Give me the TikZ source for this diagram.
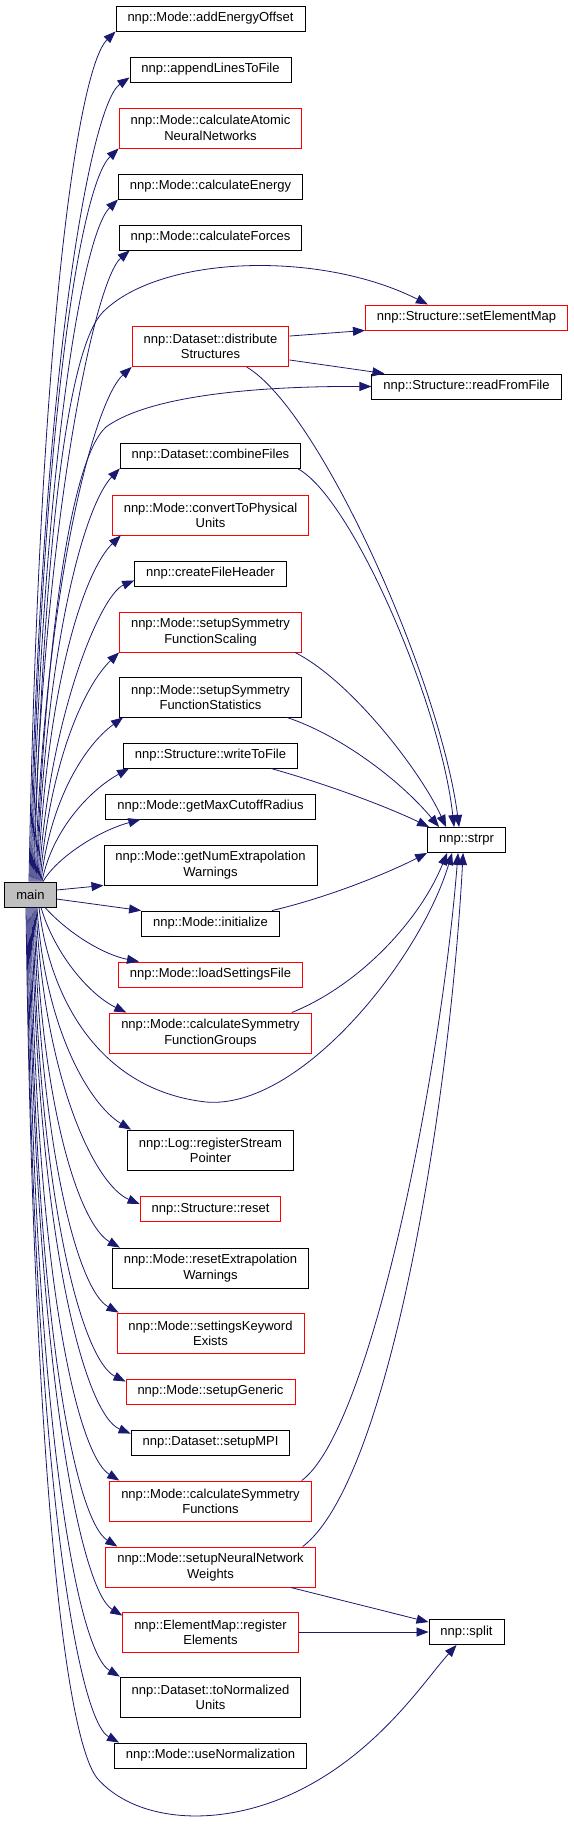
\documentclass[tikz,border=0pt]{standalone}
\usepackage{fontspec}
\setmainfont{Liberation Sans}
\usetikzlibrary{arrows.meta}
\definecolor{callblue}{HTML}{191970}
\definecolor{truncred}{HTML}{FF0000}

\begin{document}
\begin{tikzpicture}[x=1pt, y=-1pt,
    fn/.style={draw=black, line width=0.9pt, fill=white, align=center,
      inner xsep=11.5pt, inner ysep=0pt, minimum height=25pt,
      font=\fontsize{13}{15.3}\selectfont},
    two/.style={minimum height=40pt},
    trunc/.style={draw=truncred},
    call/.style={draw=callblue, line width=0.8pt,
      -{Triangle[length=12pt,width=9pt]}}]
  \useasboundingbox (0,0) rectangle (573,1825);
  % caller
  \node[fn, fill=black!25] (main) at (30.5,894.5) {main};
  % callees, middle column
  \node[fn] (addE) at (210.5,18.5) {nnp::Mode::addEnergyOffset};
  \node[fn] (append) at (210.5,69.5) {nnp::appendLinesToFile};
  \node[fn, trunc, two] (atomic) at (210.5,128) {nnp::Mode::calculateAtomic\\NeuralNetworks};
  \node[fn] (energy) at (210.5,186.5) {nnp::Mode::calculateEnergy};
  \node[fn] (forces) at (210.5,237.5) {nnp::Mode::calculateForces};
  \node[fn, trunc, two] (distrib) at (210.5,346.5) {nnp::Dataset::distribute\\Structures};
  \node[fn] (combine) at (210.5,455.5) {nnp::Dataset::combineFiles};
  \node[fn, trunc, two] (tophys) at (210.5,515) {nnp::Mode::convertToPhysical\\Units};
  \node[fn] (header) at (210.5,573.5) {nnp::createFileHeader};
  \node[fn, trunc, two] (sfscale) at (210.5,632) {nnp::Mode::setupSymmetry\\FunctionScaling};
  \node[fn, two] (sfstats) at (210.5,697) {nnp::Mode::setupSymmetry\\FunctionStatistics};
  \node[fn] (writefile) at (210.5,755.5) {nnp::Structure::writeToFile};
  \node[fn] (cutoff) at (210.5,806.5) {nnp::Mode::getMaxCutoffRadius};
  \node[fn, two] (numextra) at (210.5,865) {nnp::Mode::getNumExtrapolation\\Warnings};
  \node[fn] (init) at (210.5,923.5) {nnp::Mode::initialize};
  \node[fn, trunc] (loadset) at (210.5,974.5) {nnp::Mode::loadSettingsFile};
  \node[fn, trunc, two] (sfgroups) at (210.5,1033) {nnp::Mode::calculateSymmetry\\FunctionGroups};
  \node[fn, two] (streamptr) at (210.5,1150) {nnp::Log::registerStream\\Pointer};
  \node[fn, trunc] (reset) at (210.5,1209) {nnp::Structure::reset};
  \node[fn, two] (resetextra) at (210.5,1268) {nnp::Mode::resetExtrapolation\\Warnings};
  \node[fn, trunc, two] (keyword) at (210.5,1333) {nnp::Mode::settingsKeyword\\Exists};
  \node[fn, trunc] (generic) at (210.5,1391.5) {nnp::Mode::setupGeneric};
  \node[fn] (mpi) at (210.5,1442.5) {nnp::Dataset::setupMPI};
  \node[fn, trunc, two] (sfcalc) at (210.5,1501) {nnp::Mode::calculateSymmetry\\Functions};
  \node[fn, trunc, two] (weights) at (210.5,1567) {nnp::Mode::setupNeuralNetwork\\Weights};
  \node[fn, trunc, two] (regelem) at (210.5,1632) {nnp::ElementMap::register\\Elements};
  \node[fn, two] (tonorm) at (210.5,1697) {nnp::Dataset::toNormalized\\Units};
  \node[fn] (usenorm) at (210.5,1755.5) {nnp::Mode::useNormalization};
  % second level, right column
  \node[fn, trunc] (elemmap) at (466.5,317.5) {nnp::Structure::setElementMap};
  \node[fn] (readfile) at (466.5,386.5) {nnp::Structure::readFromFile};
  \node[fn] (strpr) at (466.5,840) {nnp::strpr};
  \node[fn] (split) at (466.5,1632) {nnp::split};

  % main -> callees above
  \draw[call] ([xshift=-1.5pt]main.north) .. controls (39,330) and (78,68) .. (addE.south west);
  \draw[call] ([xshift=-0.5pt]main.north) .. controls (40,380) and (90,105) .. ([yshift=5pt]append.south west);
  \draw[call] ([xshift=0.5pt]main.north) .. controls (41,430) and (80,185) .. (atomic.south west);
  \draw[call] ([xshift=1.5pt]main.north) .. controls (42,470) and (82,235) .. (energy.south west);
  \draw[call] ([xshift=2.5pt]main.north) .. controls (43,520) and (95,280) .. ([xshift=11pt]forces.south west);
  \draw[call] ([xshift=3.5pt]main.north) .. controls (44,520) and (70,345) .. (103,312)
    .. controls (160,255) and (320,250) .. ([xshift=63pt]elemmap.north west);
  \draw[call] ([xshift=4.5pt]main.north) .. controls (45,580) and (95,400) .. (distrib.south west);
  \draw[call] ([xshift=5.5pt]main.north) .. controls (46,640) and (70,460) .. (106,427)
    .. controls (150,395) and (260,386) .. (readfile.west);
  \draw[call] ([xshift=6.5pt]main.north) .. controls (46,640) and (85,505) .. (combine.south west);
  \draw[call] ([xshift=7.5pt]main.north) .. controls (47,680) and (85,570) .. ([xshift=9pt]tophys.south west);
  \draw[call] ([xshift=8.5pt]main.north) .. controls (48,720) and (100,595) .. ([yshift=6pt]header.south west);
  \draw[call] ([xshift=9.5pt]main.north) .. controls (50,760) and (85,685) .. (sfscale.south west);
  \draw[call] ([xshift=10.5pt]main.north) .. controls (50,800) and (85,745) .. ([xshift=4pt]sfstats.south west);
  \draw[call] ([xshift=11.5pt]main.north) .. controls (52,830) and (90,790) .. ([xshift=6pt]writefile.south west);
  \draw[call] ([xshift=12.5pt]main.north) .. controls (55,860) and (95,832) .. ([xshift=35pt]cutoff.south west);
  % main -> callees to the right
  \draw[call] ([yshift=4.5pt]main.east) -- (numextra.south west);
  \draw[call] ([yshift=-4.5pt]main.east) -- (init.north west);
  % main -> callees below
  \draw[call] ([xshift=14.5pt]main.south) .. controls (70,935) and (105,955) .. ([xshift=21pt]loadset.north west);
  \draw[call] ([xshift=10.5pt]main.south) .. controls (55,955) and (90,995) .. ([xshift=17pt]sfgroups.north west);
  \draw[call] ([xshift=8.5pt]main.south) .. controls (50,1000) and (100,1090) .. (206,1102)
    .. controls (300,1110) and (420,960) .. ([xshift=25pt]strpr.south west);
  \draw[call] ([xshift=6.5pt]main.south) .. controls (45,1030) and (90,1105) .. ([xshift=4pt]streamptr.north west);
  \draw[call] ([xshift=5.5pt]main.south) .. controls (44,1080) and (95,1185) .. ([yshift=-8pt]reset.north west);
  \draw[call] ([xshift=4.5pt]main.south) .. controls (41,1110) and (80,1225) .. ([xshift=8pt]resetextra.north west);
  \draw[call] ([xshift=3.5pt]main.south) .. controls (40,1150) and (78,1290) .. ([xshift=2pt]keyword.north west);
  \draw[call] ([xshift=2.5pt]main.south) .. controls (38,1200) and (82,1360) .. ([yshift=-3pt]generic.north west);
  \draw[call] ([xshift=1.5pt]main.south) .. controls (37,1240) and (85,1415) .. ([yshift=-4pt]mpi.north west);
  \draw[call] ([xshift=0.5pt]main.south) .. controls (35,1280) and (78,1455) .. ([xshift=10pt]sfcalc.north west);
  \draw[call] ([xshift=-0.5pt]main.south) .. controls (34,1320) and (75,1520) .. ([xshift=12pt]weights.north west);
  \draw[call] ([xshift=-1.5pt]main.south) .. controls (33,1360) and (80,1590) .. ([yshift=-4pt]regelem.north west);
  \draw[call] ([xshift=-2.5pt]main.south) .. controls (32,1400) and (75,1650) .. (tonorm.north west);
  \draw[call] ([xshift=-3.5pt]main.south) .. controls (31,1440) and (75,1718) .. ([xshift=5pt]usenorm.north west);
  \draw[call] ([xshift=-4.5pt]main.south) .. controls (32,1400) and (60,1730) .. (97,1778)
    .. controls (135,1822) and (220,1830) .. (300,1790)
    .. controls (380,1750) and (425,1680) .. ([xshift=28pt]split.south west);

  % second level calls
  \draw[call] ([yshift=-10pt]distrib.north east) -- (elemmap.south west);
  \draw[call] ([yshift=7pt]distrib.south east) -- ([xshift=13pt]readfile.north west);
  \draw[call] ([xshift=36pt]distrib.south) .. controls (320,410) and (440,680) .. ([xshift=32pt]strpr.north west);
  \draw[call] ([xshift=-4pt]combine.south east) .. controls (350,495) and (440,700) .. ([xshift=27pt]strpr.north west);
  \draw[call] ([xshift=-7pt]sfscale.south east) .. controls (350,680) and (420,770) .. ([xshift=19pt]strpr.north west);
  \draw[call] ([xshift=-15pt]sfstats.south east) .. controls (340,735) and (400,780) .. ([xshift=12pt]strpr.north west);
  \draw[call] ([xshift=-27pt]writefile.south east) .. controls (330,785) and (390,808) .. ([xshift=2pt]strpr.north west);
  \draw[call] ([xshift=-8pt]init.north east) .. controls (330,897) and (390,872) .. (strpr.south west);
  \draw[call] ([xshift=-20pt]sfgroups.north east) .. controls (360,985) and (420,920) .. ([xshift=20pt]strpr.south west);
  \draw[call] ([xshift=-10pt]sfcalc.north east) .. controls (370,1430) and (440,1080) .. ([xshift=31pt]strpr.south west);
  \draw[call] ([xshift=-13pt]weights.north east) .. controls (390,1480) and (450,1100) .. ([xshift=36pt]strpr.south west);
  \draw[call] ([xshift=-25pt]weights.south east) -- ([yshift=-3pt]split.north west);
  \draw[call] (regelem.east) -- (split.west);
\end{tikzpicture}
\end{document}
